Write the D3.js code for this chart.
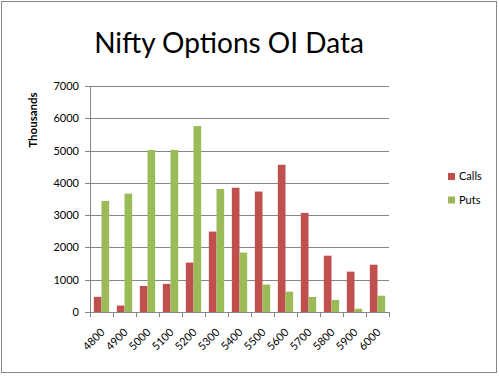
<!doctype html>
<html lang="en">
<head>
  <meta charset="utf-8">
  <title>Nifty Options OI Data</title>
  <script type="text/javascript" src="https://cdnjs.cloudflare.com/ajax/libs/d3/7.8.5/d3.min.js"></script>
  <style>
    body { margin: 0; background: #fff; }
    text { font-family: Lato, "Open Sans", sans-serif; }
  </style>
</head>
<body>
  <svg width="499" height="378" id="svg"></svg>
</body>
<script type="text/javascript">

  // strike prices
  var categories = ['4800','4900','5000','5100','5200','5300','5400','5500','5600','5700','5800','5900','6000'];
  // open interest, thousands
  var calls = [470, 200, 805, 870, 1530, 2490, 3850, 3730, 4560, 3070, 1745, 1250, 1465];
  var puts = [3440, 3665, 5020, 5020, 5760, 3810, 1840, 850, 630, 465, 375, 100, 505];
  var seriesNames = ['Calls', 'Puts'];
  var seriesColors = ['#C0504D', '#9BBB59'];
  var yTicks = [0, 1000, 2000, 3000, 4000, 5000, 6000, 7000];

  var svg = d3.select('#svg');

  // chart border
  svg.append('rect')
    .attr('x', 1.5).attr('y', 1.5)
    .attr('width', 495).attr('height', 371)
    .attr('fill', '#fff')
    .attr('stroke', '#868686');

  // plot area (note: "top" is reserved on window, so prefix these)
  var pLeft = 90, pRight = 389, pTop = 86, pBottom = 312;

  var y = d3.scaleLinear().domain([0, 7000]).range([pBottom, pTop]);
  var x0 = d3.scaleBand().domain(categories).range([pLeft, pRight]);
  var step = x0.step();
  var x1 = d3.scaleBand().domain(seriesNames).range([step / 6, step * 5 / 6]);

  // gridlines
  svg.append('g')
    .selectAll('.grid')
    .data(yTicks)
    .enter()
    .append('line')
    .attr('class', 'grid')
    .attr('x1', pLeft - 5)
    .attr('x2', pRight)
    .attr('y1', function(d) { return Math.round(y(d)) + 0.5; })
    .attr('y2', function(d) { return Math.round(y(d)) + 0.5; })
    .attr('stroke', '#868686');

  // y labels
  svg.append('g')
    .selectAll('.ylab')
    .data(yTicks)
    .enter()
    .append('text')
    .attr('class', 'ylab')
    .attr('x', 79)
    .attr('y', function(d) { return y(d) + 4; })
    .attr('text-anchor', 'end')
    .attr('font-size', 11)
    .text(function(d) { return d; });

  // y axis line
  svg.append('line')
    .attr('x1', pLeft + 0.5).attr('x2', pLeft + 0.5)
    .attr('y1', pTop).attr('y2', pBottom)
    .attr('stroke', '#868686');

  // x ticks at category boundaries
  var bounds = categories.map(function(c) { return x0(c); }).concat([pRight]);
  svg.append('g')
    .selectAll('.xtick')
    .data(bounds)
    .enter()
    .append('line')
    .attr('class', 'xtick')
    .attr('x1', function(d) { return Math.round(d) + 0.5; })
    .attr('x2', function(d) { return Math.round(d) + 0.5; })
    .attr('y1', pBottom)
    .attr('y2', pBottom + 5)
    .attr('stroke', '#868686');

  // bars
  var groups = svg.append('g')
    .selectAll('.cat')
    .data(categories)
    .enter()
    .append('g')
    .attr('class', 'cat')
    .attr('transform', function(d) { return 'translate(' + x0(d) + ',0)'; });

  groups.selectAll('rect')
    .data(function(d, i) {
      return [{s: 'Calls', v: calls[i], c: seriesColors[0]}, {s: 'Puts', v: puts[i], c: seriesColors[1]}];
    })
    .enter()
    .append('rect')
    .attr('x', function(d) { return x1(d.s); })
    .attr('width', x1.bandwidth())
    .attr('y', function(d) { return y(d.v); })
    .attr('height', function(d) { return pBottom - y(d.v); })
    .attr('fill', function(d) { return d.c; });

  // x labels, rotated
  svg.append('g')
    .selectAll('.xlab')
    .data(categories)
    .enter()
    .append('text')
    .attr('class', 'xlab')
    .attr('text-anchor', 'end')
    .attr('font-size', 11)
    .attr('transform', function(d) {
      return 'translate(' + (x0(d) + step / 2 + 4) + ',' + (pBottom + 21) + ') rotate(-45)';
    })
    .text(function(d) { return d; });

  // title
  svg.append('text')
    .attr('x', 229)
    .attr('y', 53)
    .attr('text-anchor', 'middle')
    .attr('font-size', 28)
    .text('Nifty Options OI Data');

  // y axis title
  svg.append('text')
    .attr('transform', 'translate(37,120) rotate(-90)')
    .attr('text-anchor', 'middle')
    .attr('font-size', 11.5)
    .attr('font-weight', 'bold')
    .text('Thousands');

  // legend
  var legend = svg.append('g')
    .selectAll('.leg')
    .data(seriesNames)
    .enter()
    .append('g')
    .attr('class', 'leg')
    .attr('transform', function(d, i) { return 'translate(448,' + (173 + i * 23.5) + ')'; });

  legend.append('rect')
    .attr('width', 7).attr('height', 7)
    .attr('fill', function(d, i) { return seriesColors[i]; });

  legend.append('text')
    .attr('x', 11)
    .attr('y', 7)
    .attr('font-size', 11)
    .text(function(d) { return d; });

</script>
</html>
